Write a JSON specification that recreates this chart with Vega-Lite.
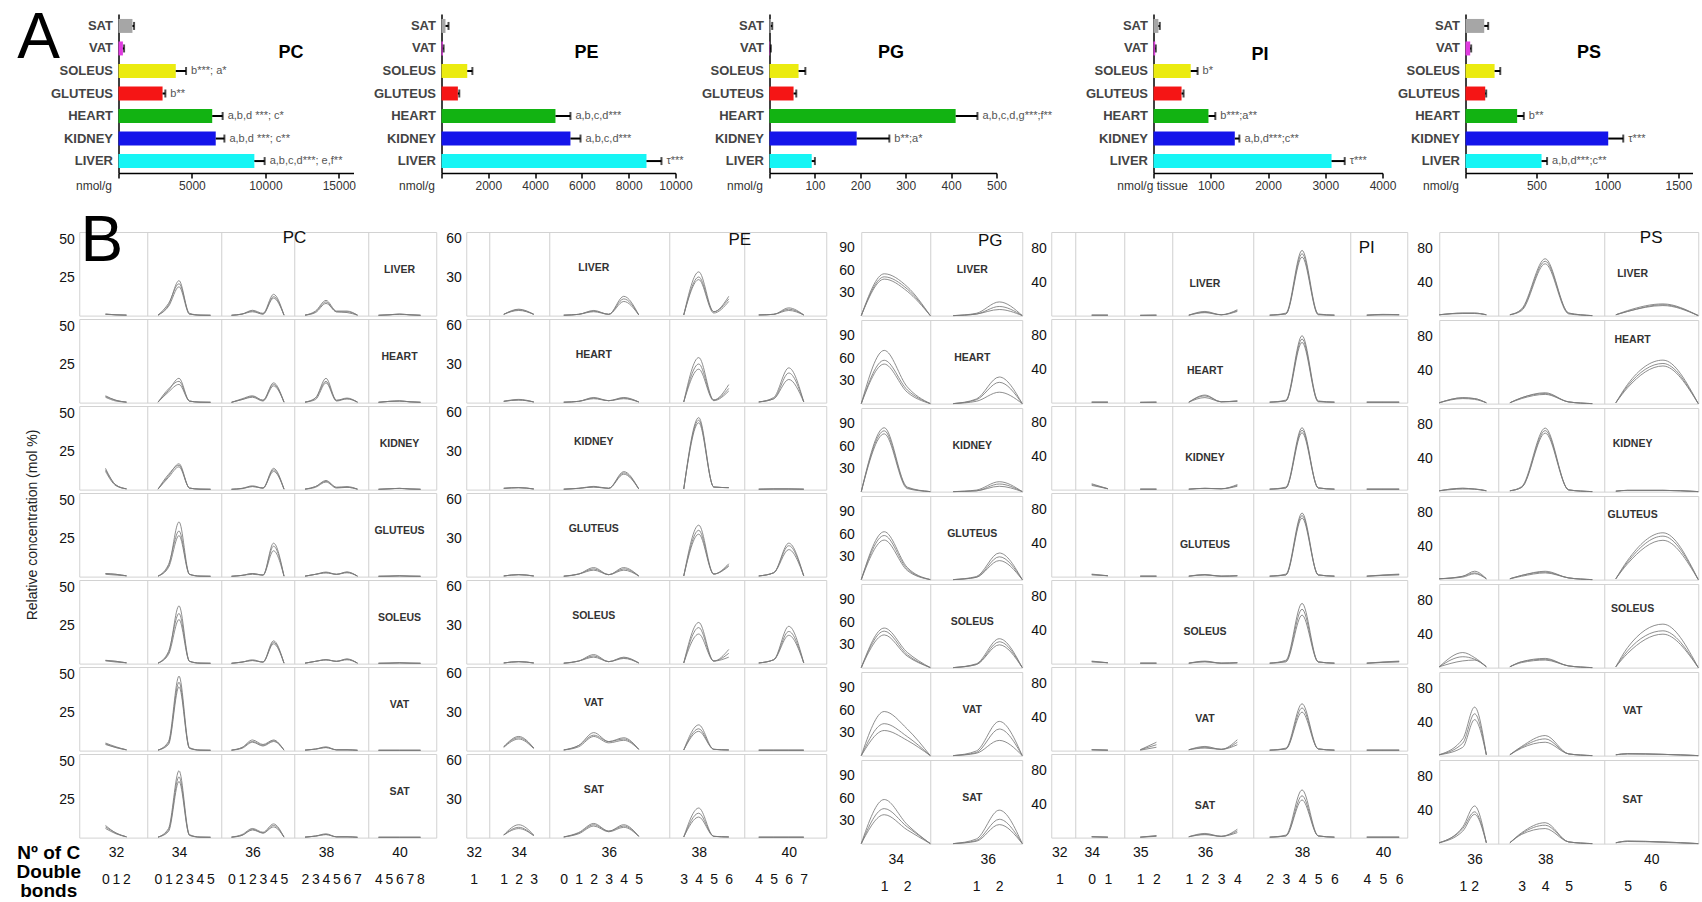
{
"$schema":"https://vega.github.io/schema/vega-lite/v6.json",
"padding":{"left":16,"top":6,"right":0,"bottom":0},
"config":{"font":"Liberation Sans","view":{"stroke":"#d2d2d2"}},
"datasets":{
"bars":[
{"cls":"PC","t":"SAT","v":950,"e":1060,"note":""},
{"cls":"PC","t":"VAT","v":300,"e":380,"note":""},
{"cls":"PC","t":"SOLEUS","v":3900,"e":4600,"note":"b***; a*"},
{"cls":"PC","t":"GLUTEUS","v":3000,"e":3190,"note":"b**"},
{"cls":"PC","t":"HEART","v":6380,"e":7090,"note":"a,b,d ***; c*"},
{"cls":"PC","t":"KIDNEY","v":6620,"e":7210,"note":"a,b,d ***; c**"},
{"cls":"PC","t":"LIVER","v":9250,"e":9950,"note":"a,b,c,d***; e,f**"},
{"cls":"PE","t":"SAT","v":170,"e":300,"note":""},
{"cls":"PE","t":"VAT","v":60,"e":90,"note":""},
{"cls":"PE","t":"SOLEUS","v":1100,"e":1320,"note":""},
{"cls":"PE","t":"GLUTEUS","v":700,"e":760,"note":""},
{"cls":"PE","t":"HEART","v":4870,"e":5510,"note":"a,b,c,d***"},
{"cls":"PE","t":"KIDNEY","v":5510,"e":5940,"note":"a,b,c,d***"},
{"cls":"PE","t":"LIVER","v":8760,"e":9400,"note":"τ***"},
{"cls":"PG","t":"SAT","v":3,"e":6,"note":""},
{"cls":"PG","t":"VAT","v":1,"e":3,"note":""},
{"cls":"PG","t":"SOLEUS","v":64,"e":79,"note":""},
{"cls":"PG","t":"GLUTEUS","v":53,"e":59,"note":""},
{"cls":"PG","t":"HEART","v":410,"e":458,"note":"a,b,c,d,g***;f**"},
{"cls":"PG","t":"KIDNEY","v":192,"e":264,"note":"b**;a*"},
{"cls":"PG","t":"LIVER","v":93,"e":100,"note":""},
{"cls":"PI","t":"SAT","v":85,"e":110,"note":""},
{"cls":"PI","t":"VAT","v":30,"e":40,"note":""},
{"cls":"PI","t":"SOLEUS","v":650,"e":770,"note":"b*"},
{"cls":"PI","t":"GLUTEUS","v":490,"e":525,"note":""},
{"cls":"PI","t":"HEART","v":960,"e":1080,"note":"b***;a**"},
{"cls":"PI","t":"KIDNEY","v":1420,"e":1500,"note":"a,b,d***;c**"},
{"cls":"PI","t":"LIVER","v":3110,"e":3340,"note":"τ***"},
{"cls":"PS","t":"SAT","v":132,"e":160,"note":""},
{"cls":"PS","t":"VAT","v":33,"e":40,"note":""},
{"cls":"PS","t":"SOLEUS","v":205,"e":245,"note":""},
{"cls":"PS","t":"GLUTEUS","v":139,"e":146,"note":""},
{"cls":"PS","t":"HEART","v":364,"e":411,"note":"b**"},
{"cls":"PS","t":"KIDNEY","v":1006,"e":1112,"note":"τ***"},
{"cls":"PS","t":"LIVER","v":536,"e":575,"note":"a,b,d***;c**"}
],
"pc":[
{"t":"LI","g":"32","s":"32:0","a":1,"b":1,"c":0.8},
{"t":"LI","g":"32","s":"32:1","a":0.5,"b":0.5,"c":0.5},
{"t":"LI","g":"32","s":"32:2","a":0.3,"b":0.3,"c":0.3},
{"t":"LI","g":"34","s":"34:0","a":0.3,"b":0.3,"c":0.3},
{"t":"LI","g":"34","s":"34:1","a":7,"b":8,"c":6},
{"t":"LI","g":"34","s":"34:2","a":23,"b":21,"c":19},
{"t":"LI","g":"34","s":"34:3","a":1,"b":1.5,"c":1},
{"t":"LI","g":"34","s":"34:4","a":0.3,"b":0.3,"c":0.3},
{"t":"LI","g":"34","s":"34:5","a":0.2,"b":0.2,"c":0.2},
{"t":"LI","g":"36","s":"36:0","a":0.2,"b":0.2,"c":0.2},
{"t":"LI","g":"36","s":"36:1","a":1,"b":1,"c":1},
{"t":"LI","g":"36","s":"36:2","a":3.5,"b":3,"c":2.5},
{"t":"LI","g":"36","s":"36:3","a":1.5,"b":1,"c":1},
{"t":"LI","g":"36","s":"36:4","a":14,"b":12.5,"c":11.5},
{"t":"LI","g":"36","s":"36:5","a":0.3,"b":0.3,"c":0.3},
{"t":"LI","g":"38","s":"38:2","a":0.3,"b":0.3,"c":0.3},
{"t":"LI","g":"38","s":"38:3","a":3,"b":2.5,"c":2},
{"t":"LI","g":"38","s":"38:4","a":10,"b":9,"c":8},
{"t":"LI","g":"38","s":"38:5","a":3,"b":2.5,"c":2.5},
{"t":"LI","g":"38","s":"38:6","a":3,"b":2.5,"c":2},
{"t":"LI","g":"38","s":"38:7","a":0.3,"b":0.3,"c":0.3},
{"t":"LI","g":"40","s":"40:4","a":0.2,"b":0.2,"c":0.2},
{"t":"LI","g":"40","s":"40:5","a":0.5,"b":0.5,"c":0.5},
{"t":"LI","g":"40","s":"40:6","a":1,"b":1,"c":0.8},
{"t":"LI","g":"40","s":"40:7","a":0.5,"b":0.5,"c":0.5},
{"t":"LI","g":"40","s":"40:8","a":0.2,"b":0.2,"c":0.2},
{"t":"HE","g":"32","s":"32:0","a":4,"b":4.5,"c":3.5},
{"t":"HE","g":"32","s":"32:1","a":1.5,"b":1.5,"c":1},
{"t":"HE","g":"32","s":"32:2","a":0.3,"b":0.3,"c":0.3},
{"t":"HE","g":"34","s":"34:0","a":0.3,"b":0.3,"c":0.3},
{"t":"HE","g":"34","s":"34:1","a":8,"b":9,"c":7},
{"t":"HE","g":"34","s":"34:2","a":16,"b":14,"c":12},
{"t":"HE","g":"34","s":"34:3","a":1,"b":1,"c":1},
{"t":"HE","g":"34","s":"34:4","a":0.3,"b":0.3,"c":0.3},
{"t":"HE","g":"34","s":"34:5","a":0.2,"b":0.2,"c":0.2},
{"t":"HE","g":"36","s":"36:0","a":0.2,"b":0.2,"c":0.2},
{"t":"HE","g":"36","s":"36:1","a":2,"b":2.5,"c":2},
{"t":"HE","g":"36","s":"36:2","a":4,"b":4.5,"c":3.5},
{"t":"HE","g":"36","s":"36:3","a":1.5,"b":1.5,"c":1},
{"t":"HE","g":"36","s":"36:4","a":13,"b":12,"c":11},
{"t":"HE","g":"36","s":"36:5","a":0.3,"b":0.3,"c":0.3},
{"t":"HE","g":"38","s":"38:2","a":0.3,"b":0.3,"c":0.3},
{"t":"HE","g":"38","s":"38:3","a":3,"b":3,"c":2},
{"t":"HE","g":"38","s":"38:4","a":16,"b":14,"c":13},
{"t":"HE","g":"38","s":"38:5","a":1.5,"b":1.5,"c":1},
{"t":"HE","g":"38","s":"38:6","a":3,"b":2.5,"c":2.5},
{"t":"HE","g":"38","s":"38:7","a":0.3,"b":0.3,"c":0.3},
{"t":"HE","g":"40","s":"40:4","a":0.2,"b":0.2,"c":0.2},
{"t":"HE","g":"40","s":"40:5","a":0.8,"b":0.8,"c":0.8},
{"t":"HE","g":"40","s":"40:6","a":1.2,"b":1,"c":1},
{"t":"HE","g":"40","s":"40:7","a":0.5,"b":0.5,"c":0.5},
{"t":"HE","g":"40","s":"40:8","a":0.2,"b":0.2,"c":0.2},
{"t":"KI","g":"32","s":"32:0","a":14,"b":13,"c":12},
{"t":"KI","g":"32","s":"32:1","a":3,"b":3,"c":2.5},
{"t":"KI","g":"32","s":"32:2","a":0.5,"b":0.5,"c":0.5},
{"t":"KI","g":"34","s":"34:0","a":0.3,"b":0.3,"c":0.3},
{"t":"KI","g":"34","s":"34:1","a":9,"b":10,"c":8},
{"t":"KI","g":"34","s":"34:2","a":17,"b":16,"c":15},
{"t":"KI","g":"34","s":"34:3","a":1,"b":1,"c":1},
{"t":"KI","g":"34","s":"34:4","a":0.3,"b":0.3,"c":0.3},
{"t":"KI","g":"34","s":"34:5","a":0.2,"b":0.2,"c":0.2},
{"t":"KI","g":"36","s":"36:0","a":0.2,"b":0.2,"c":0.2},
{"t":"KI","g":"36","s":"36:1","a":0.8,"b":0.8,"c":0.6},
{"t":"KI","g":"36","s":"36:2","a":2.5,"b":2,"c":2},
{"t":"KI","g":"36","s":"36:3","a":1,"b":1,"c":1},
{"t":"KI","g":"36","s":"36:4","a":14,"b":13,"c":12},
{"t":"KI","g":"36","s":"36:5","a":0.3,"b":0.3,"c":0.3},
{"t":"KI","g":"38","s":"38:2","a":0.3,"b":0.3,"c":0.3},
{"t":"KI","g":"38","s":"38:3","a":2,"b":2,"c":1.5},
{"t":"KI","g":"38","s":"38:4","a":6,"b":5.5,"c":5},
{"t":"KI","g":"38","s":"38:5","a":1.5,"b":1.5,"c":1},
{"t":"KI","g":"38","s":"38:6","a":2,"b":1.5,"c":1.5},
{"t":"KI","g":"38","s":"38:7","a":0.3,"b":0.3,"c":0.3},
{"t":"KI","g":"40","s":"40:4","a":0.2,"b":0.2,"c":0.2},
{"t":"KI","g":"40","s":"40:5","a":0.5,"b":0.5,"c":0.5},
{"t":"KI","g":"40","s":"40:6","a":0.8,"b":0.8,"c":0.8},
{"t":"KI","g":"40","s":"40:7","a":0.4,"b":0.4,"c":0.4},
{"t":"KI","g":"40","s":"40:8","a":0.2,"b":0.2,"c":0.2},
{"t":"GL","g":"32","s":"32:0","a":2,"b":2,"c":1.5},
{"t":"GL","g":"32","s":"32:1","a":1.5,"b":1.5,"c":1},
{"t":"GL","g":"32","s":"32:2","a":0.5,"b":0.5,"c":0.5},
{"t":"GL","g":"34","s":"34:0","a":0.3,"b":0.3,"c":0.3},
{"t":"GL","g":"34","s":"34:1","a":7,"b":8,"c":6},
{"t":"GL","g":"34","s":"34:2","a":36,"b":30,"c":27},
{"t":"GL","g":"34","s":"34:3","a":1.5,"b":1.5,"c":1.5},
{"t":"GL","g":"34","s":"34:4","a":0.3,"b":0.3,"c":0.3},
{"t":"GL","g":"34","s":"34:5","a":0.2,"b":0.2,"c":0.2},
{"t":"GL","g":"36","s":"36:0","a":0.2,"b":0.2,"c":0.2},
{"t":"GL","g":"36","s":"36:1","a":0.8,"b":0.8,"c":0.8},
{"t":"GL","g":"36","s":"36:2","a":2,"b":2,"c":1.5},
{"t":"GL","g":"36","s":"36:3","a":1,"b":1,"c":1},
{"t":"GL","g":"36","s":"36:4","a":22,"b":20,"c":17},
{"t":"GL","g":"36","s":"36:5","a":0.3,"b":0.3,"c":0.3},
{"t":"GL","g":"38","s":"38:2","a":0.3,"b":0.3,"c":0.3},
{"t":"GL","g":"38","s":"38:3","a":1.5,"b":1.5,"c":1.5},
{"t":"GL","g":"38","s":"38:4","a":3,"b":2.5,"c":2.5},
{"t":"GL","g":"38","s":"38:5","a":1.5,"b":1.5,"c":1.5},
{"t":"GL","g":"38","s":"38:6","a":3,"b":3,"c":2.5},
{"t":"GL","g":"38","s":"38:7","a":0.3,"b":0.3,"c":0.3},
{"t":"GL","g":"40","s":"40:4","a":0.2,"b":0.2,"c":0.2},
{"t":"GL","g":"40","s":"40:5","a":0.3,"b":0.3,"c":0.3},
{"t":"GL","g":"40","s":"40:6","a":0.5,"b":0.5,"c":0.5},
{"t":"GL","g":"40","s":"40:7","a":0.3,"b":0.3,"c":0.3},
{"t":"GL","g":"40","s":"40:8","a":0.2,"b":0.2,"c":0.2},
{"t":"SO","g":"32","s":"32:0","a":2,"b":2.2,"c":1.8},
{"t":"SO","g":"32","s":"32:1","a":1.5,"b":1.5,"c":1},
{"t":"SO","g":"32","s":"32:2","a":0.5,"b":0.5,"c":0.5},
{"t":"SO","g":"34","s":"34:0","a":0.3,"b":0.3,"c":0.3},
{"t":"SO","g":"34","s":"34:1","a":7,"b":8,"c":6},
{"t":"SO","g":"34","s":"34:2","a":38,"b":33,"c":29},
{"t":"SO","g":"34","s":"34:3","a":1.5,"b":1.5,"c":1.5},
{"t":"SO","g":"34","s":"34:4","a":0.3,"b":0.3,"c":0.3},
{"t":"SO","g":"34","s":"34:5","a":0.2,"b":0.2,"c":0.2},
{"t":"SO","g":"36","s":"36:0","a":0.2,"b":0.2,"c":0.2},
{"t":"SO","g":"36","s":"36:1","a":1,"b":1,"c":1},
{"t":"SO","g":"36","s":"36:2","a":2.5,"b":2,"c":2},
{"t":"SO","g":"36","s":"36:3","a":1,"b":1,"c":1},
{"t":"SO","g":"36","s":"36:4","a":15,"b":14,"c":13},
{"t":"SO","g":"36","s":"36:5","a":0.3,"b":0.3,"c":0.3},
{"t":"SO","g":"38","s":"38:2","a":0.3,"b":0.3,"c":0.3},
{"t":"SO","g":"38","s":"38:3","a":1.5,"b":1.5,"c":1.5},
{"t":"SO","g":"38","s":"38:4","a":2.5,"b":2.5,"c":2.5},
{"t":"SO","g":"38","s":"38:5","a":1.5,"b":1.5,"c":1.5},
{"t":"SO","g":"38","s":"38:6","a":3,"b":3,"c":2.5},
{"t":"SO","g":"38","s":"38:7","a":0.3,"b":0.3,"c":0.3},
{"t":"SO","g":"40","s":"40:4","a":0.2,"b":0.2,"c":0.2},
{"t":"SO","g":"40","s":"40:5","a":0.3,"b":0.3,"c":0.3},
{"t":"SO","g":"40","s":"40:6","a":0.5,"b":0.5,"c":0.5},
{"t":"SO","g":"40","s":"40:7","a":0.3,"b":0.3,"c":0.3},
{"t":"SO","g":"40","s":"40:8","a":0.2,"b":0.2,"c":0.2},
{"t":"VA","g":"32","s":"32:0","a":5,"b":4.5,"c":4},
{"t":"VA","g":"32","s":"32:1","a":2.5,"b":2,"c":2},
{"t":"VA","g":"32","s":"32:2","a":0.5,"b":0.5,"c":0.5},
{"t":"VA","g":"34","s":"34:0","a":0.3,"b":0.3,"c":0.3},
{"t":"VA","g":"34","s":"34:1","a":6,"b":5,"c":4},
{"t":"VA","g":"34","s":"34:2","a":49,"b":45,"c":42},
{"t":"VA","g":"34","s":"34:3","a":2,"b":1.5,"c":1.5},
{"t":"VA","g":"34","s":"34:4","a":0.3,"b":0.3,"c":0.3},
{"t":"VA","g":"34","s":"34:5","a":0.2,"b":0.2,"c":0.2},
{"t":"VA","g":"36","s":"36:0","a":0.3,"b":0.3,"c":0.3},
{"t":"VA","g":"36","s":"36:1","a":2,"b":2,"c":1.5},
{"t":"VA","g":"36","s":"36:2","a":7,"b":6,"c":5.5},
{"t":"VA","g":"36","s":"36:3","a":4,"b":3.5,"c":3},
{"t":"VA","g":"36","s":"36:4","a":7,"b":6.5,"c":6},
{"t":"VA","g":"36","s":"36:5","a":0.3,"b":0.3,"c":0.3},
{"t":"VA","g":"38","s":"38:2","a":0.3,"b":0.3,"c":0.3},
{"t":"VA","g":"38","s":"38:3","a":1,"b":1,"c":1},
{"t":"VA","g":"38","s":"38:4","a":2.5,"b":2,"c":2},
{"t":"VA","g":"38","s":"38:5","a":0.5,"b":0.5,"c":0.5},
{"t":"VA","g":"38","s":"38:6","a":0.5,"b":0.5,"c":0.5},
{"t":"VA","g":"38","s":"38:7","a":0.2,"b":0.2,"c":0.2},
{"t":"VA","g":"40","s":"40:4","a":0.2,"b":0.2,"c":0.2},
{"t":"VA","g":"40","s":"40:5","a":0.2,"b":0.2,"c":0.2},
{"t":"VA","g":"40","s":"40:6","a":0.2,"b":0.2,"c":0.2},
{"t":"VA","g":"40","s":"40:7","a":0.2,"b":0.2,"c":0.2},
{"t":"VA","g":"40","s":"40:8","a":0.2,"b":0.2,"c":0.2},
{"t":"SA","g":"32","s":"32:0","a":8,"b":7,"c":6},
{"t":"SA","g":"32","s":"32:1","a":3,"b":3,"c":2.5},
{"t":"SA","g":"32","s":"32:2","a":0.5,"b":0.5,"c":0.5},
{"t":"SA","g":"34","s":"34:0","a":0.3,"b":0.3,"c":0.3},
{"t":"SA","g":"34","s":"34:1","a":6,"b":5,"c":4},
{"t":"SA","g":"34","s":"34:2","a":44,"b":40,"c":37},
{"t":"SA","g":"34","s":"34:3","a":2,"b":1.5,"c":1.5},
{"t":"SA","g":"34","s":"34:4","a":0.3,"b":0.3,"c":0.3},
{"t":"SA","g":"34","s":"34:5","a":0.2,"b":0.2,"c":0.2},
{"t":"SA","g":"36","s":"36:0","a":0.3,"b":0.3,"c":0.3},
{"t":"SA","g":"36","s":"36:1","a":2,"b":1.5,"c":1.5},
{"t":"SA","g":"36","s":"36:2","a":6,"b":5.5,"c":5},
{"t":"SA","g":"36","s":"36:3","a":3.5,"b":3,"c":3},
{"t":"SA","g":"36","s":"36:4","a":9,"b":8,"c":7},
{"t":"SA","g":"36","s":"36:5","a":0.3,"b":0.3,"c":0.3},
{"t":"SA","g":"38","s":"38:2","a":0.3,"b":0.3,"c":0.3},
{"t":"SA","g":"38","s":"38:3","a":1,"b":1,"c":1},
{"t":"SA","g":"38","s":"38:4","a":2.5,"b":2,"c":2},
{"t":"SA","g":"38","s":"38:5","a":0.5,"b":0.5,"c":0.5},
{"t":"SA","g":"38","s":"38:6","a":0.5,"b":0.5,"c":0.5},
{"t":"SA","g":"38","s":"38:7","a":0.2,"b":0.2,"c":0.2},
{"t":"SA","g":"40","s":"40:4","a":0.2,"b":0.2,"c":0.2},
{"t":"SA","g":"40","s":"40:5","a":0.2,"b":0.2,"c":0.2},
{"t":"SA","g":"40","s":"40:6","a":0.2,"b":0.2,"c":0.2},
{"t":"SA","g":"40","s":"40:7","a":0.2,"b":0.2,"c":0.2},
{"t":"SA","g":"40","s":"40:8","a":0.2,"b":0.2,"c":0.2},
{"t":"LI","s":"40:6","lab":"LIVER","v":30},
{"t":"HE","s":"40:6","lab":"HEART","v":30},
{"t":"KI","s":"40:6","lab":"KIDNEY","v":30},
{"t":"GL","s":"40:6","lab":"GLUTEUS","v":30},
{"t":"SO","s":"40:6","lab":"SOLEUS","v":30},
{"t":"VA","s":"40:6","lab":"VAT","v":30},
{"t":"SA","s":"40:6","lab":"SAT","v":30},
{"t":"LI","s":"|38","ttl":"PC","v":51},
{"t":"LI","s":"p0","big":"B","v":48.5}
],
"pe":[
{"t":"LI","g":"32","s":"32:1","a":0.5,"b":0.5,"c":0.5},
{"t":"LI","g":"34","s":"34:1","a":1,"b":1,"c":1},
{"t":"LI","g":"34","s":"34:2","a":5,"b":4.5,"c":4},
{"t":"LI","g":"34","s":"34:3","a":1,"b":1,"c":1},
{"t":"LI","g":"36","s":"36:0","a":0.3,"b":0.3,"c":0.3},
{"t":"LI","g":"36","s":"36:1","a":1,"b":1,"c":1},
{"t":"LI","g":"36","s":"36:2","a":4,"b":3.5,"c":3},
{"t":"LI","g":"36","s":"36:3","a":1,"b":1,"c":1},
{"t":"LI","g":"36","s":"36:4","a":15,"b":13,"c":11},
{"t":"LI","g":"36","s":"36:5","a":0.5,"b":0.5,"c":0.5},
{"t":"LI","g":"38","s":"38:3","a":0.5,"b":0.5,"c":0.5},
{"t":"LI","g":"38","s":"38:4","a":34,"b":30,"c":28},
{"t":"LI","g":"38","s":"38:5","a":3,"b":3,"c":2},
{"t":"LI","g":"38","s":"38:6","a":15,"b":13,"c":11},
{"t":"LI","g":"40","s":"40:4","a":0.5,"b":0.5,"c":0.5},
{"t":"LI","g":"40","s":"40:5","a":1,"b":1,"c":1},
{"t":"LI","g":"40","s":"40:6","a":6,"b":5,"c":4},
{"t":"LI","g":"40","s":"40:7","a":0.5,"b":0.5,"c":0.5},
{"t":"HE","g":"32","s":"32:1","a":0.5,"b":0.5,"c":0.5},
{"t":"HE","g":"34","s":"34:1","a":1,"b":1,"c":1},
{"t":"HE","g":"34","s":"34:2","a":2.5,"b":2,"c":2},
{"t":"HE","g":"34","s":"34:3","a":0.5,"b":0.5,"c":0.5},
{"t":"HE","g":"36","s":"36:0","a":0.3,"b":0.3,"c":0.3},
{"t":"HE","g":"36","s":"36:1","a":1,"b":1,"c":1},
{"t":"HE","g":"36","s":"36:2","a":4,"b":3.5,"c":3},
{"t":"HE","g":"36","s":"36:3","a":1.5,"b":1.5,"c":1.5},
{"t":"HE","g":"36","s":"36:4","a":4,"b":3.5,"c":3},
{"t":"HE","g":"36","s":"36:5","a":0.5,"b":0.5,"c":0.5},
{"t":"HE","g":"38","s":"38:3","a":0.5,"b":0.5,"c":0.5},
{"t":"HE","g":"38","s":"38:4","a":35,"b":30,"c":26},
{"t":"HE","g":"38","s":"38:5","a":2,"b":2,"c":1.5},
{"t":"HE","g":"38","s":"38:6","a":14,"b":11,"c":9},
{"t":"HE","g":"40","s":"40:4","a":0.5,"b":0.5,"c":0.5},
{"t":"HE","g":"40","s":"40:5","a":4,"b":3,"c":3},
{"t":"HE","g":"40","s":"40:6","a":27,"b":23,"c":18},
{"t":"HE","g":"40","s":"40:7","a":0.5,"b":0.5,"c":0.5},
{"t":"KI","g":"32","s":"32:1","a":1,"b":1,"c":1},
{"t":"KI","g":"34","s":"34:1","a":1,"b":1,"c":1},
{"t":"KI","g":"34","s":"34:2","a":1.5,"b":1.5,"c":1.5},
{"t":"KI","g":"34","s":"34:3","a":0.5,"b":0.5,"c":0.5},
{"t":"KI","g":"36","s":"36:0","a":0.3,"b":0.3,"c":0.3},
{"t":"KI","g":"36","s":"36:1","a":1,"b":1,"c":1},
{"t":"KI","g":"36","s":"36:2","a":2.5,"b":2,"c":2},
{"t":"KI","g":"36","s":"36:3","a":1,"b":1,"c":1},
{"t":"KI","g":"36","s":"36:4","a":14,"b":13,"c":12},
{"t":"KI","g":"36","s":"36:5","a":0.5,"b":0.5,"c":0.5},
{"t":"KI","g":"38","s":"38:3","a":0.5,"b":0.5,"c":0.5},
{"t":"KI","g":"38","s":"38:4","a":56,"b":54,"c":52},
{"t":"KI","g":"38","s":"38:5","a":2,"b":2,"c":2},
{"t":"KI","g":"38","s":"38:6","a":1.5,"b":1.5,"c":1.5},
{"t":"KI","g":"40","s":"40:4","a":0.3,"b":0.3,"c":0.3},
{"t":"KI","g":"40","s":"40:5","a":0.5,"b":0.5,"c":0.5},
{"t":"KI","g":"40","s":"40:6","a":0.5,"b":0.5,"c":0.5},
{"t":"KI","g":"40","s":"40:7","a":0.3,"b":0.3,"c":0.3},
{"t":"GL","g":"32","s":"32:1","a":0.5,"b":0.5,"c":0.5},
{"t":"GL","g":"34","s":"34:1","a":0.5,"b":0.5,"c":0.5},
{"t":"GL","g":"34","s":"34:2","a":1.5,"b":1.5,"c":1.5},
{"t":"GL","g":"34","s":"34:3","a":0.5,"b":0.5,"c":0.5},
{"t":"GL","g":"36","s":"36:0","a":0.3,"b":0.3,"c":0.3},
{"t":"GL","g":"36","s":"36:1","a":2,"b":2,"c":2},
{"t":"GL","g":"36","s":"36:2","a":7,"b":6,"c":5},
{"t":"GL","g":"36","s":"36:3","a":1.5,"b":1.5,"c":1.5},
{"t":"GL","g":"36","s":"36:4","a":7,"b":6,"c":5},
{"t":"GL","g":"36","s":"36:5","a":0.5,"b":0.5,"c":0.5},
{"t":"GL","g":"38","s":"38:3","a":0.5,"b":0.5,"c":0.5},
{"t":"GL","g":"38","s":"38:4","a":40,"b":36,"c":33},
{"t":"GL","g":"38","s":"38:5","a":2,"b":2,"c":2},
{"t":"GL","g":"38","s":"38:6","a":10,"b":9,"c":8},
{"t":"GL","g":"40","s":"40:4","a":0.5,"b":0.5,"c":0.5},
{"t":"GL","g":"40","s":"40:5","a":3,"b":3,"c":3},
{"t":"GL","g":"40","s":"40:6","a":26,"b":24,"c":21},
{"t":"GL","g":"40","s":"40:7","a":0.5,"b":0.5,"c":0.5},
{"t":"SO","g":"32","s":"32:1","a":0.5,"b":0.5,"c":0.5},
{"t":"SO","g":"34","s":"34:1","a":0.5,"b":0.5,"c":0.5},
{"t":"SO","g":"34","s":"34:2","a":1.5,"b":1.5,"c":1.5},
{"t":"SO","g":"34","s":"34:3","a":0.5,"b":0.5,"c":0.5},
{"t":"SO","g":"36","s":"36:0","a":0.3,"b":0.3,"c":0.3},
{"t":"SO","g":"36","s":"36:1","a":2,"b":2,"c":2},
{"t":"SO","g":"36","s":"36:2","a":7,"b":6,"c":5},
{"t":"SO","g":"36","s":"36:3","a":1.5,"b":1.5,"c":1.5},
{"t":"SO","g":"36","s":"36:4","a":5,"b":4.5,"c":4},
{"t":"SO","g":"36","s":"36:5","a":0.5,"b":0.5,"c":0.5},
{"t":"SO","g":"38","s":"38:3","a":0.5,"b":0.5,"c":0.5},
{"t":"SO","g":"38","s":"38:4","a":32,"b":28,"c":23},
{"t":"SO","g":"38","s":"38:5","a":2,"b":2,"c":2},
{"t":"SO","g":"38","s":"38:6","a":11,"b":8,"c":5},
{"t":"SO","g":"40","s":"40:4","a":0.5,"b":0.5,"c":0.5},
{"t":"SO","g":"40","s":"40:5","a":3,"b":3,"c":3},
{"t":"SO","g":"40","s":"40:6","a":29,"b":25,"c":22},
{"t":"SO","g":"40","s":"40:7","a":0.5,"b":0.5,"c":0.5},
{"t":"VA","g":"32","s":"32:1","a":1,"b":1,"c":1},
{"t":"VA","g":"34","s":"34:1","a":3,"b":3,"c":2.5},
{"t":"VA","g":"34","s":"34:2","a":11,"b":10,"c":9},
{"t":"VA","g":"34","s":"34:3","a":2,"b":2,"c":1.5},
{"t":"VA","g":"36","s":"36:0","a":0.5,"b":0.5,"c":0.5},
{"t":"VA","g":"36","s":"36:1","a":4,"b":4,"c":3},
{"t":"VA","g":"36","s":"36:2","a":14,"b":12,"c":11},
{"t":"VA","g":"36","s":"36:3","a":7,"b":7,"c":6},
{"t":"VA","g":"36","s":"36:4","a":10,"b":9,"c":8},
{"t":"VA","g":"36","s":"36:5","a":1,"b":1,"c":1},
{"t":"VA","g":"38","s":"38:3","a":0.5,"b":0.5,"c":0.5},
{"t":"VA","g":"38","s":"38:4","a":20,"b":17,"c":15},
{"t":"VA","g":"38","s":"38:5","a":1,"b":1,"c":1},
{"t":"VA","g":"38","s":"38:6","a":0.5,"b":0.5,"c":0.5},
{"t":"VA","g":"40","s":"40:4","a":0.3,"b":0.3,"c":0.3},
{"t":"VA","g":"40","s":"40:5","a":0.3,"b":0.3,"c":0.3},
{"t":"VA","g":"40","s":"40:6","a":0.3,"b":0.3,"c":0.3},
{"t":"VA","g":"40","s":"40:7","a":0.3,"b":0.3,"c":0.3},
{"t":"SA","g":"32","s":"32:1","a":1,"b":1,"c":1},
{"t":"SA","g":"34","s":"34:1","a":2,"b":2,"c":2},
{"t":"SA","g":"34","s":"34:2","a":10,"b":8,"c":7},
{"t":"SA","g":"34","s":"34:3","a":2,"b":1.5,"c":1.5},
{"t":"SA","g":"36","s":"36:0","a":0.5,"b":0.5,"c":0.5},
{"t":"SA","g":"36","s":"36:1","a":4,"b":3.5,"c":3},
{"t":"SA","g":"36","s":"36:2","a":11,"b":10,"c":9},
{"t":"SA","g":"36","s":"36:3","a":5,"b":5,"c":4.5},
{"t":"SA","g":"36","s":"36:4","a":10,"b":9,"c":8},
{"t":"SA","g":"36","s":"36:5","a":1,"b":1,"c":1},
{"t":"SA","g":"38","s":"38:3","a":0.5,"b":0.5,"c":0.5},
{"t":"SA","g":"38","s":"38:4","a":23,"b":19,"c":16},
{"t":"SA","g":"38","s":"38:5","a":1,"b":1,"c":1},
{"t":"SA","g":"38","s":"38:6","a":0.5,"b":0.5,"c":0.5},
{"t":"SA","g":"40","s":"40:4","a":0.3,"b":0.3,"c":0.3},
{"t":"SA","g":"40","s":"40:5","a":0.3,"b":0.3,"c":0.3},
{"t":"SA","g":"40","s":"40:6","a":0.3,"b":0.3,"c":0.3},
{"t":"SA","g":"40","s":"40:7","a":0.3,"b":0.3,"c":0.3},
{"t":"LI","s":"36:2","lab":"LIVER","v":37},
{"t":"HE","s":"36:2","lab":"HEART","v":37},
{"t":"KI","s":"36:2","lab":"KIDNEY","v":37},
{"t":"GL","s":"36:2","lab":"GLUTEUS","v":37},
{"t":"SO","s":"36:2","lab":"SOLEUS","v":37},
{"t":"VA","s":"36:2","lab":"VAT","v":37},
{"t":"SA","s":"36:2","lab":"SAT","v":37},
{"t":"LI","s":"|40","ttl":"PE","v":59}
],
"pg":[
{"t":"LI","g":"34","s":"34:0","a":0,"b":0,"c":0},
{"t":"LI","g":"34","s":"34:1","a":55,"b":51,"c":48},
{"t":"LI","g":"34","s":"34:2","a":38,"b":35,"c":32},
{"t":"LI","g":"34","s":"34:3","a":0,"b":0,"c":0},
{"t":"LI","g":"36","s":"36:0","a":0,"b":0,"c":0},
{"t":"LI","g":"36","s":"36:1","a":3,"b":2,"c":2},
{"t":"LI","g":"36","s":"36:2","a":18,"b":12,"c":8},
{"t":"LI","g":"36","s":"36:3","a":0,"b":0,"c":0},
{"t":"HE","g":"34","s":"34:0","a":0,"b":0,"c":0},
{"t":"HE","g":"34","s":"34:1","a":70,"b":57,"c":52},
{"t":"HE","g":"34","s":"34:2","a":22,"b":18,"c":15},
{"t":"HE","g":"34","s":"34:3","a":0,"b":0,"c":0},
{"t":"HE","g":"36","s":"36:0","a":0,"b":0,"c":0},
{"t":"HE","g":"36","s":"36:1","a":6,"b":5,"c":3},
{"t":"HE","g":"36","s":"36:2","a":35,"b":28,"c":15},
{"t":"HE","g":"36","s":"36:3","a":0,"b":0,"c":0},
{"t":"KI","g":"34","s":"34:0","a":0,"b":0,"c":0},
{"t":"KI","g":"34","s":"34:1","a":84,"b":80,"c":76},
{"t":"KI","g":"34","s":"34:2","a":6,"b":5,"c":4},
{"t":"KI","g":"34","s":"34:3","a":0,"b":0,"c":0},
{"t":"KI","g":"36","s":"36:0","a":0,"b":0,"c":0},
{"t":"KI","g":"36","s":"36:1","a":2,"b":1,"c":1},
{"t":"KI","g":"36","s":"36:2","a":13,"b":10,"c":7},
{"t":"KI","g":"36","s":"36:3","a":0,"b":0,"c":0},
{"t":"GL","g":"34","s":"34:0","a":0,"b":0,"c":0},
{"t":"GL","g":"34","s":"34:1","a":63,"b":58,"c":52},
{"t":"GL","g":"34","s":"34:2","a":16,"b":14,"c":12},
{"t":"GL","g":"34","s":"34:3","a":0,"b":0,"c":0},
{"t":"GL","g":"36","s":"36:0","a":0,"b":0,"c":0},
{"t":"GL","g":"36","s":"36:1","a":4,"b":3,"c":3},
{"t":"GL","g":"36","s":"36:2","a":35,"b":30,"c":25},
{"t":"GL","g":"36","s":"36:3","a":0,"b":0,"c":0},
{"t":"SO","g":"34","s":"34:0","a":0,"b":0,"c":0},
{"t":"SO","g":"34","s":"34:1","a":52,"b":48,"c":43},
{"t":"SO","g":"34","s":"34:2","a":20,"b":17,"c":15},
{"t":"SO","g":"34","s":"34:3","a":0,"b":0,"c":0},
{"t":"SO","g":"36","s":"36:0","a":0,"b":0,"c":0},
{"t":"SO","g":"36","s":"36:1","a":5,"b":4,"c":4},
{"t":"SO","g":"36","s":"36:2","a":38,"b":34,"c":30},
{"t":"SO","g":"36","s":"36:3","a":0,"b":0,"c":0},
{"t":"VA","g":"34","s":"34:0","a":0,"b":0,"c":0},
{"t":"VA","g":"34","s":"34:1","a":58,"b":42,"c":33},
{"t":"VA","g":"34","s":"34:2","a":35,"b":25,"c":20},
{"t":"VA","g":"34","s":"34:3","a":0,"b":0,"c":0},
{"t":"VA","g":"36","s":"36:0","a":0,"b":0,"c":0},
{"t":"VA","g":"36","s":"36:1","a":6,"b":4,"c":3},
{"t":"VA","g":"36","s":"36:2","a":45,"b":35,"c":20},
{"t":"VA","g":"36","s":"36:3","a":0,"b":0,"c":0},
{"t":"SA","g":"34","s":"34:0","a":0,"b":0,"c":0},
{"t":"SA","g":"34","s":"34:1","a":58,"b":46,"c":38},
{"t":"SA","g":"34","s":"34:2","a":25,"b":22,"c":18},
{"t":"SA","g":"34","s":"34:3","a":0,"b":0,"c":0},
{"t":"SA","g":"36","s":"36:0","a":0,"b":0,"c":0},
{"t":"SA","g":"36","s":"36:1","a":6,"b":4,"c":3},
{"t":"SA","g":"36","s":"36:2","a":44,"b":32,"c":25},
{"t":"SA","g":"36","s":"36:3","a":0,"b":0,"c":0},
{"t":"LI","s":"36:1","lab":"LIVER","v":60},
{"t":"HE","s":"36:1","lab":"HEART","v":60},
{"t":"KI","s":"36:1","lab":"KIDNEY","v":60},
{"t":"GL","s":"36:1","lab":"GLUTEUS","v":60},
{"t":"SO","s":"36:1","lab":"SOLEUS","v":60},
{"t":"VA","s":"36:1","lab":"VAT","v":60},
{"t":"SA","s":"36:1","lab":"SAT","v":60},
{"t":"LI","s":"36:2","ttl":"PG","v":98}
],
"pi":[
{"t":"LI","g":"32","s":"32:1","a":0.5,"b":0.5,"c":0.5},
{"t":"LI","g":"34","s":"34:0","a":0.5,"b":0.5,"c":0.5},
{"t":"LI","g":"34","s":"34:1","a":0.5,"b":0.5,"c":0.5},
{"t":"LI","g":"35","s":"35:1","a":0.3,"b":0.3,"c":0.3},
{"t":"LI","g":"35","s":"35:2","a":0.5,"b":0.5,"c":0.5},
{"t":"LI","g":"36","s":"36:1","a":0.5,"b":0.5,"c":0.5},
{"t":"LI","g":"36","s":"36:2","a":5,"b":4,"c":3.5},
{"t":"LI","g":"36","s":"36:3","a":1,"b":1,"c":1},
{"t":"LI","g":"36","s":"36:4","a":7,"b":6,"c":5},
{"t":"LI","g":"38","s":"38:2","a":0.5,"b":0.5,"c":0.5},
{"t":"LI","g":"38","s":"38:3","a":3,"b":2,"c":2},
{"t":"LI","g":"38","s":"38:4","a":78,"b":74,"c":70},
{"t":"LI","g":"38","s":"38:5","a":2,"b":1.5,"c":1},
{"t":"LI","g":"38","s":"38:6","a":0.5,"b":0.5,"c":0.5},
{"t":"LI","g":"40","s":"40:4","a":0.5,"b":0.5,"c":0.5},
{"t":"LI","g":"40","s":"40:5","a":1.5,"b":1,"c":1},
{"t":"LI","g":"40","s":"40:6","a":1,"b":1,"c":1},
{"t":"HE","g":"32","s":"32:1","a":0.5,"b":0.5,"c":0.5},
{"t":"HE","g":"34","s":"34:0","a":0.5,"b":0.5,"c":0.5},
{"t":"HE","g":"34","s":"34:1","a":0.5,"b":0.5,"c":0.5},
{"t":"HE","g":"35","s":"35:1","a":0.3,"b":0.3,"c":0.3},
{"t":"HE","g":"35","s":"35:2","a":0.5,"b":0.5,"c":0.5},
{"t":"HE","g":"36","s":"36:1","a":0.5,"b":0.5,"c":0.5},
{"t":"HE","g":"36","s":"36:2","a":9,"b":8,"c":6},
{"t":"HE","g":"36","s":"36:3","a":1,"b":1,"c":1},
{"t":"HE","g":"36","s":"36:4","a":2,"b":2,"c":1.5},
{"t":"HE","g":"38","s":"38:2","a":0.5,"b":0.5,"c":0.5},
{"t":"HE","g":"38","s":"38:3","a":3,"b":2,"c":2},
{"t":"HE","g":"38","s":"38:4","a":80,"b":76,"c":72},
{"t":"HE","g":"38","s":"38:5","a":2,"b":1.5,"c":1},
{"t":"HE","g":"38","s":"38:6","a":0.5,"b":0.5,"c":0.5},
{"t":"HE","g":"40","s":"40:4","a":0.5,"b":0.5,"c":0.5},
{"t":"HE","g":"40","s":"40:5","a":0.5,"b":0.5,"c":0.5},
{"t":"HE","g":"40","s":"40:6","a":0.5,"b":0.5,"c":0.5},
{"t":"KI","g":"32","s":"32:1","a":1,"b":1,"c":1},
{"t":"KI","g":"34","s":"34:0","a":7,"b":6,"c":5},
{"t":"KI","g":"34","s":"34:1","a":1,"b":1,"c":1},
{"t":"KI","g":"35","s":"35:1","a":0.5,"b":0.5,"c":0.5},
{"t":"KI","g":"35","s":"35:2","a":0.5,"b":0.5,"c":0.5},
{"t":"KI","g":"36","s":"36:1","a":0.5,"b":0.5,"c":0.5},
{"t":"KI","g":"36","s":"36:2","a":1.5,"b":1.5,"c":1.5},
{"t":"KI","g":"36","s":"36:3","a":1,"b":1,"c":1},
{"t":"KI","g":"36","s":"36:4","a":6,"b":5,"c":4},
{"t":"KI","g":"38","s":"38:2","a":0.5,"b":0.5,"c":0.5},
{"t":"KI","g":"38","s":"38:3","a":3,"b":2,"c":2},
{"t":"KI","g":"38","s":"38:4","a":74,"b":71,"c":68},
{"t":"KI","g":"38","s":"38:5","a":2,"b":2,"c":2},
{"t":"KI","g":"38","s":"38:6","a":0.5,"b":0.5,"c":0.5},
{"t":"KI","g":"40","s":"40:4","a":0.5,"b":0.5,"c":0.5},
{"t":"KI","g":"40","s":"40:5","a":0.5,"b":0.5,"c":0.5},
{"t":"KI","g":"40","s":"40:6","a":0.5,"b":0.5,"c":0.5},
{"t":"GL","g":"32","s":"32:1","a":0.5,"b":0.5,"c":0.5},
{"t":"GL","g":"34","s":"34:0","a":3,"b":2.5,"c":2},
{"t":"GL","g":"34","s":"34:1","a":1,"b":1,"c":1},
{"t":"GL","g":"35","s":"35:1","a":0.5,"b":0.5,"c":0.5},
{"t":"GL","g":"35","s":"35:2","a":0.5,"b":0.5,"c":0.5},
{"t":"GL","g":"36","s":"36:1","a":0.5,"b":0.5,"c":0.5},
{"t":"GL","g":"36","s":"36:2","a":2.5,"b":2,"c":2},
{"t":"GL","g":"36","s":"36:3","a":0.5,"b":0.5,"c":0.5},
{"t":"GL","g":"36","s":"36:4","a":1,"b":1,"c":1},
{"t":"GL","g":"38","s":"38:2","a":0.5,"b":0.5,"c":0.5},
{"t":"GL","g":"38","s":"38:3","a":3,"b":2,"c":2},
{"t":"GL","g":"38","s":"38:4","a":76,"b":73,"c":70},
{"t":"GL","g":"38","s":"38:5","a":2,"b":2,"c":2},
{"t":"GL","g":"38","s":"38:6","a":0.5,"b":0.5,"c":0.5},
{"t":"GL","g":"40","s":"40:4","a":0.5,"b":0.5,"c":0.5},
{"t":"GL","g":"40","s":"40:5","a":2,"b":1.5,"c":1.5},
{"t":"GL","g":"40","s":"40:6","a":3,"b":2.5,"c":2},
{"t":"SO","g":"32","s":"32:1","a":0.5,"b":0.5,"c":0.5},
{"t":"SO","g":"34","s":"34:0","a":3,"b":2.5,"c":2},
{"t":"SO","g":"34","s":"34:1","a":1,"b":1,"c":1},
{"t":"SO","g":"35","s":"35:1","a":0.5,"b":0.5,"c":0.5},
{"t":"SO","g":"35","s":"35:2","a":0.5,"b":0.5,"c":0.5},
{"t":"SO","g":"36","s":"36:1","a":0.5,"b":0.5,"c":0.5},
{"t":"SO","g":"36","s":"36:2","a":3,"b":2.5,"c":2},
{"t":"SO","g":"36","s":"36:3","a":0.5,"b":0.5,"c":0.5},
{"t":"SO","g":"36","s":"36:4","a":1,"b":1,"c":1},
{"t":"SO","g":"38","s":"38:2","a":0.5,"b":0.5,"c":0.5},
{"t":"SO","g":"38","s":"38:3","a":4,"b":3,"c":2},
{"t":"SO","g":"38","s":"38:4","a":72,"b":65,"c":58},
{"t":"SO","g":"38","s":"38:5","a":2,"b":2,"c":2},
{"t":"SO","g":"38","s":"38:6","a":0.5,"b":0.5,"c":0.5},
{"t":"SO","g":"40","s":"40:4","a":0.5,"b":0.5,"c":0.5},
{"t":"SO","g":"40","s":"40:5","a":2,"b":1.5,"c":1.5},
{"t":"SO","g":"40","s":"40:6","a":3,"b":2.5,"c":2},
{"t":"VA","g":"32","s":"32:1","a":0.5,"b":0.5,"c":0.5},
{"t":"VA","g":"34","s":"34:0","a":1,"b":1,"c":1},
{"t":"VA","g":"34","s":"34:1","a":0.5,"b":0.5,"c":0.5},
{"t":"VA","g":"35","s":"35:1","a":1,"b":1,"c":0.5},
{"t":"VA","g":"35","s":"35:2","a":10,"b":7,"c":4},
{"t":"VA","g":"36","s":"36:1","a":1,"b":1,"c":1},
{"t":"VA","g":"36","s":"36:2","a":5,"b":4,"c":3},
{"t":"VA","g":"36","s":"36:3","a":1.5,"b":1.5,"c":1.5},
{"t":"VA","g":"36","s":"36:4","a":13,"b":10,"c":7},
{"t":"VA","g":"38","s":"38:2","a":0.5,"b":0.5,"c":0.5},
{"t":"VA","g":"38","s":"38:3","a":3,"b":2,"c":2},
{"t":"VA","g":"38","s":"38:4","a":56,"b":51,"c":46},
{"t":"VA","g":"38","s":"38:5","a":2,"b":2,"c":2},
{"t":"VA","g":"38","s":"38:6","a":0.5,"b":0.5,"c":0.5},
{"t":"VA","g":"40","s":"40:4","a":0.5,"b":0.5,"c":0.5},
{"t":"VA","g":"40","s":"40:5","a":0.5,"b":0.5,"c":0.5},
{"t":"VA","g":"40","s":"40:6","a":0.5,"b":0.5,"c":0.5},
{"t":"SA","g":"32","s":"32:1","a":0.5,"b":0.5,"c":0.5},
{"t":"SA","g":"34","s":"34:0","a":1,"b":1,"c":1},
{"t":"SA","g":"34","s":"34:1","a":0.5,"b":0.5,"c":0.5},
{"t":"SA","g":"35","s":"35:1","a":0.5,"b":0.5,"c":0.5},
{"t":"SA","g":"35","s":"35:2","a":2.5,"b":2,"c":1.5},
{"t":"SA","g":"36","s":"36:1","a":1,"b":1,"c":1},
{"t":"SA","g":"36","s":"36:2","a":5,"b":4,"c":3.5},
{"t":"SA","g":"36","s":"36:3","a":1.5,"b":1.5,"c":1.5},
{"t":"SA","g":"36","s":"36:4","a":10,"b":8,"c":6},
{"t":"SA","g":"38","s":"38:2","a":0.5,"b":0.5,"c":0.5},
{"t":"SA","g":"38","s":"38:3","a":3,"b":2,"c":2},
{"t":"SA","g":"38","s":"38:4","a":57,"b":50,"c":45},
{"t":"SA","g":"38","s":"38:5","a":2,"b":2,"c":2},
{"t":"SA","g":"38","s":"38:6","a":0.5,"b":0.5,"c":0.5},
{"t":"SA","g":"40","s":"40:4","a":0.5,"b":0.5,"c":0.5},
{"t":"SA","g":"40","s":"40:5","a":0.5,"b":0.5,"c":0.5},
{"t":"SA","g":"40","s":"40:6","a":0.5,"b":0.5,"c":0.5},
{"t":"LI","s":"36:2","lab":"LIVER","v":38},
{"t":"HE","s":"36:2","lab":"HEART","v":38},
{"t":"KI","s":"36:2","lab":"KIDNEY","v":38},
{"t":"GL","s":"36:2","lab":"GLUTEUS","v":38},
{"t":"SO","s":"36:2","lab":"SOLEUS","v":38},
{"t":"VA","s":"36:2","lab":"VAT","v":38},
{"t":"SA","s":"36:2","lab":"SAT","v":38},
{"t":"LI","s":"40:4","ttl":"PI","v":81}
],
"ps":[
{"t":"LI","g":"36","s":"36:0","a":1,"b":1,"c":1},
{"t":"LI","g":"36","s":"36:1","a":3,"b":3,"c":2.5},
{"t":"LI","g":"36","s":"36:2","a":3,"b":3,"c":2.5},
{"t":"LI","g":"36","s":"36:3","a":1,"b":1,"c":1},
{"t":"LI","g":"38","s":"38:2","a":1,"b":1,"c":1},
{"t":"LI","g":"38","s":"38:3","a":8,"b":7,"c":6},
{"t":"LI","g":"38","s":"38:4","a":68,"b":65,"c":62},
{"t":"LI","g":"38","s":"38:5","a":3,"b":3,"c":2},
{"t":"LI","g":"38","s":"38:6","a":0,"b":0,"c":0},
{"t":"LI","g":"40","s":"40:4","a":1,"b":1,"c":1},
{"t":"LI","g":"40","s":"40:5","a":6,"b":5,"c":5},
{"t":"LI","g":"40","s":"40:6","a":14,"b":13,"c":12},
{"t":"LI","g":"40","s":"40:7","a":0,"b":0,"c":0},
{"t":"HE","g":"36","s":"36:0","a":1,"b":1,"c":1},
{"t":"HE","g":"36","s":"36:1","a":7,"b":7,"c":6},
{"t":"HE","g":"36","s":"36:2","a":6,"b":6,"c":5},
{"t":"HE","g":"36","s":"36:3","a":1,"b":1,"c":1},
{"t":"HE","g":"38","s":"38:2","a":1,"b":1,"c":1},
{"t":"HE","g":"38","s":"38:3","a":7,"b":7,"c":6},
{"t":"HE","g":"38","s":"38:4","a":13,"b":12,"c":11},
{"t":"HE","g":"38","s":"38:5","a":2,"b":2,"c":2},
{"t":"HE","g":"38","s":"38:6","a":0,"b":0,"c":0},
{"t":"HE","g":"40","s":"40:4","a":1,"b":1,"c":1},
{"t":"HE","g":"40","s":"40:5","a":23,"b":21,"c":19},
{"t":"HE","g":"40","s":"40:6","a":52,"b":48,"c":45},
{"t":"HE","g":"40","s":"40:7","a":0,"b":0,"c":0},
{"t":"KI","g":"36","s":"36:0","a":1,"b":1,"c":1},
{"t":"KI","g":"36","s":"36:1","a":4,"b":4,"c":3},
{"t":"KI","g":"36","s":"36:2","a":3,"b":3,"c":3},
{"t":"KI","g":"36","s":"36:3","a":1,"b":1,"c":1},
{"t":"KI","g":"38","s":"38:2","a":1,"b":1,"c":1},
{"t":"KI","g":"38","s":"38:3","a":6,"b":5,"c":5},
{"t":"KI","g":"38","s":"38:4","a":76,"b":73,"c":70},
{"t":"KI","g":"38","s":"38:5","a":2,"b":2,"c":2},
{"t":"KI","g":"38","s":"38:6","a":0,"b":0,"c":0},
{"t":"KI","g":"40","s":"40:4","a":0.5,"b":0.5,"c":0.5},
{"t":"KI","g":"40","s":"40:5","a":1.5,"b":1.5,"c":1.5},
{"t":"KI","g":"40","s":"40:6","a":1.5,"b":1.5,"c":1.5},
{"t":"KI","g":"40","s":"40:7","a":0,"b":0,"c":0},
{"t":"GL","g":"36","s":"36:0","a":1,"b":1,"c":1},
{"t":"GL","g":"36","s":"36:1","a":4,"b":4,"c":3},
{"t":"GL","g":"36","s":"36:2","a":10,"b":8,"c":7},
{"t":"GL","g":"36","s":"36:3","a":1,"b":1,"c":1},
{"t":"GL","g":"38","s":"38:2","a":1,"b":1,"c":1},
{"t":"GL","g":"38","s":"38:3","a":5,"b":5,"c":4},
{"t":"GL","g":"38","s":"38:4","a":10,"b":9,"c":8},
{"t":"GL","g":"38","s":"38:5","a":2,"b":2,"c":2},
{"t":"GL","g":"38","s":"38:6","a":0,"b":0,"c":0},
{"t":"GL","g":"40","s":"40:4","a":1,"b":1,"c":1},
{"t":"GL","g":"40","s":"40:5","a":23,"b":21,"c":19},
{"t":"GL","g":"40","s":"40:6","a":56,"b":52,"c":47},
{"t":"GL","g":"40","s":"40:7","a":0,"b":0,"c":0},
{"t":"SO","g":"36","s":"36:0","a":1,"b":1,"c":1},
{"t":"SO","g":"36","s":"36:1","a":18,"b":13,"c":8},
{"t":"SO","g":"36","s":"36:2","a":12,"b":10,"c":9},
{"t":"SO","g":"36","s":"36:3","a":1,"b":1,"c":1},
{"t":"SO","g":"38","s":"38:2","a":1,"b":1,"c":1},
{"t":"SO","g":"38","s":"38:3","a":7,"b":7,"c":6},
{"t":"SO","g":"38","s":"38:4","a":11,"b":10,"c":9},
{"t":"SO","g":"38","s":"38:5","a":2,"b":2,"c":2},
{"t":"SO","g":"38","s":"38:6","a":0,"b":0,"c":0},
{"t":"SO","g":"40","s":"40:4","a":1,"b":1,"c":1},
{"t":"SO","g":"40","s":"40:5","a":24,"b":20,"c":17},
{"t":"SO","g":"40","s":"40:6","a":52,"b":44,"c":40},
{"t":"SO","g":"40","s":"40:7","a":0,"b":0,"c":0},
{"t":"VA","g":"36","s":"36:0","a":1,"b":1,"c":1},
{"t":"VA","g":"36","s":"36:1","a":20,"b":15,"c":10},
{"t":"VA","g":"36","s":"36:2","a":58,"b":50,"c":43},
{"t":"VA","g":"36","s":"36:3","a":1,"b":1,"c":1},
{"t":"VA","g":"38","s":"38:2","a":1,"b":1,"c":1},
{"t":"VA","g":"38","s":"38:3","a":11,"b":10,"c":9},
{"t":"VA","g":"38","s":"38:4","a":24,"b":20,"c":16},
{"t":"VA","g":"38","s":"38:5","a":2,"b":2,"c":2},
{"t":"VA","g":"38","s":"38:6","a":0,"b":0,"c":0},
{"t":"VA","g":"40","s":"40:4","a":1,"b":1,"c":1},
{"t":"VA","g":"40","s":"40:5","a":2.5,"b":2,"c":2},
{"t":"VA","g":"40","s":"40:6","a":1.5,"b":1.5,"c":1.5},
{"t":"VA","g":"40","s":"40:7","a":0,"b":0,"c":0},
{"t":"SA","g":"36","s":"36:0","a":1,"b":1,"c":1},
{"t":"SA","g":"36","s":"36:1","a":20,"b":18,"c":15},
{"t":"SA","g":"36","s":"36:2","a":45,"b":38,"c":35},
{"t":"SA","g":"36","s":"36:3","a":1,"b":1,"c":1},
{"t":"SA","g":"38","s":"38:2","a":1,"b":1,"c":1},
{"t":"SA","g":"38","s":"38:3","a":13,"b":12,"c":11},
{"t":"SA","g":"38","s":"38:4","a":25,"b":22,"c":18},
{"t":"SA","g":"38","s":"38:5","a":2,"b":2,"c":2},
{"t":"SA","g":"38","s":"38:6","a":0,"b":0,"c":0},
{"t":"SA","g":"40","s":"40:4","a":1,"b":1,"c":1},
{"t":"SA","g":"40","s":"40:5","a":3,"b":3,"c":2.5},
{"t":"SA","g":"40","s":"40:6","a":2,"b":2,"c":1.5},
{"t":"SA","g":"40","s":"40:7","a":0,"b":0,"c":0},
{"t":"LI","s":"40:5","lab":"LIVER","v":50},
{"t":"HE","s":"40:5","lab":"HEART","v":76},
{"t":"KI","s":"40:5","lab":"KIDNEY","v":57},
{"t":"GL","s":"40:5","lab":"GLUTEUS","v":77},
{"t":"SO","s":"40:5","lab":"SOLEUS","v":70},
{"t":"VA","s":"40:5","lab":"VAT","v":53},
{"t":"SA","s":"40:5","lab":"SAT","v":52},
{"t":"LI","s":"c40","ttl":"PS","v":93},
{"t":"LI","s":"40:7","sp":"","v":50}
]
},
"columns":1,
"center":true,
"spacing":18,
"concat":[
{"spacing":32,
 "hconcat":[
  {"spacing":17,"hconcat":[
   {"width":235,"height":159,"view":{"stroke":null},"data":{"name":"bars"},"transform":[{"filter":"datum.cls=='PC'"}],
    "title":{"text":"PC","fontSize":18,"fontWeight":"bold","offset":-55,"frame":"group","dx":55,"color":"#000"},
    "encoding":{"y":{"field":"t","type":"nominal","sort":["SAT","VAT","SOLEUS","GLUTEUS","HEART","KIDNEY","LIVER"],"scale":{"paddingInner":0.38,"paddingOuter":0.22},"axis":{"title":null,"ticks":false,"domainColor":"#000","domainWidth":1.5,"labelFontSize":13,"labelFontWeight":"bold","labelColor":"#444","labelPadding":6}}},
    "layer":[
     {"mark":{"type":"bar"},"encoding":{"x":{"field":"v","type":"quantitative","scale":{"domain":[0,15000]},"axis":{"title":null,"values":[0,5000,10000,15000],"format":"d","grid":false,"domainColor":"#000","domainWidth":1.5,"tickColor":"#000","tickWidth":1.5,"tickSize":5,"labelFontSize":12,"labelColor":"#333","labelPadding":2,"labelOverlap":false,"labelExpr":"datum.value==0?'nmol/g':datum.label","labelAlign":{"condition":{"test":"datum.value==0","value":"right"},"value":"center"},"labelOffset":{"condition":{"test":"datum.value==0","value":-7},"value":0}}},"color":{"field":"t","type":"nominal","scale":{"domain":["SAT","VAT","SOLEUS","GLUTEUS","HEART","KIDNEY","LIVER"],"range":["#a6a6a6","#e03ce0","#ebeb10","#f51515","#12b312","#1414ea","#16f5f5"]},"legend":null}}},
     {"mark":{"type":"rule","color":"#000","strokeWidth":2},"encoding":{"x":{"field":"v","type":"quantitative"},"x2":{"field":"e"}}},
     {"mark":{"type":"tick","color":"#000","thickness":2,"size":8,"orient":"vertical"},"encoding":{"x":{"field":"e","type":"quantitative"}}},
     {"mark":{"type":"text","align":"left","dx":5,"fontSize":11,"color":"#555"},"encoding":{"x":{"field":"e","type":"quantitative"},"text":{"field":"note"}}},
     {"data":{"values":[{"panel":"A"}]},"mark":{"type":"text","fontSize":64,"color":"#000","dx":-80,"dy":13,"baseline":"middle","align":"center"},"encoding":{"x":{"datum":0},"y":{"datum":"SAT"},"text":{"field":"panel"}}}
    ]},
   {"spacing":8,"hconcat":[
   {"width":234,"height":159,"view":{"stroke":null},"data":{"name":"bars"},"transform":[{"filter":"datum.cls=='PE'"}],
    "title":{"text":"PE","fontSize":18,"fontWeight":"bold","offset":-48,"frame":"group","dx":28,"color":"#000"},
    "encoding":{"y":{"field":"t","type":"nominal","sort":["SAT","VAT","SOLEUS","GLUTEUS","HEART","KIDNEY","LIVER"],"scale":{"paddingInner":0.38,"paddingOuter":0.22},"axis":{"title":null,"ticks":false,"domainColor":"#000","domainWidth":1.5,"labelFontSize":13,"labelFontWeight":"bold","labelColor":"#444","labelPadding":6}}},
    "layer":[
     {"mark":{"type":"bar"},"encoding":{"x":{"field":"v","type":"quantitative","scale":{"domain":[0,10000]},"axis":{"title":null,"values":[0,2000,4000,6000,8000,10000],"format":"d","grid":false,"domainColor":"#000","domainWidth":1.5,"tickColor":"#000","tickWidth":1.5,"tickSize":5,"labelFontSize":12,"labelColor":"#333","labelPadding":2,"labelOverlap":false,"labelExpr":"datum.value==0?'nmol/g':datum.label","labelAlign":{"condition":{"test":"datum.value==0","value":"right"},"value":"center"},"labelOffset":{"condition":{"test":"datum.value==0","value":-7},"value":0}}},"color":{"field":"t","type":"nominal","scale":{"domain":["SAT","VAT","SOLEUS","GLUTEUS","HEART","KIDNEY","LIVER"],"range":["#a6a6a6","#e03ce0","#ebeb10","#f51515","#12b312","#1414ea","#16f5f5"]},"legend":null}}},
     {"mark":{"type":"rule","color":"#000","strokeWidth":2},"encoding":{"x":{"field":"v","type":"quantitative"},"x2":{"field":"e"}}},
     {"mark":{"type":"tick","color":"#000","thickness":2,"size":8,"orient":"vertical"},"encoding":{"x":{"field":"e","type":"quantitative"}}},
     {"mark":{"type":"text","align":"left","dx":5,"fontSize":11,"color":"#555"},"encoding":{"x":{"field":"e","type":"quantitative"},"text":{"field":"note"}}}
    ]},
   {"width":227,"height":159,"view":{"stroke":null},"data":{"name":"bars"},"transform":[{"filter":"datum.cls=='PG'"}],
    "title":{"text":"PG","fontSize":18,"fontWeight":"bold","offset":-48,"frame":"group","dx":8,"color":"#000"},
    "encoding":{"y":{"field":"t","type":"nominal","sort":["SAT","VAT","SOLEUS","GLUTEUS","HEART","KIDNEY","LIVER"],"scale":{"paddingInner":0.38,"paddingOuter":0.22},"axis":{"title":null,"ticks":false,"domainColor":"#000","domainWidth":1.5,"labelFontSize":13,"labelFontWeight":"bold","labelColor":"#444","labelPadding":6}}},
    "layer":[
     {"mark":{"type":"bar"},"encoding":{"x":{"field":"v","type":"quantitative","scale":{"domain":[0,500]},"axis":{"title":null,"values":[0,100,200,300,400,500],"format":"d","grid":false,"domainColor":"#000","domainWidth":1.5,"tickColor":"#000","tickWidth":1.5,"tickSize":5,"labelFontSize":12,"labelColor":"#333","labelPadding":2,"labelOverlap":false,"labelExpr":"datum.value==0?'nmol/g':datum.label","labelAlign":{"condition":{"test":"datum.value==0","value":"right"},"value":"center"},"labelOffset":{"condition":{"test":"datum.value==0","value":-7},"value":0}}},"color":{"field":"t","type":"nominal","scale":{"domain":["SAT","VAT","SOLEUS","GLUTEUS","HEART","KIDNEY","LIVER"],"range":["#a6a6a6","#e03ce0","#ebeb10","#f51515","#12b312","#1414ea","#16f5f5"]},"legend":null}}},
     {"mark":{"type":"rule","color":"#000","strokeWidth":2},"encoding":{"x":{"field":"v","type":"quantitative"},"x2":{"field":"e"}}},
     {"mark":{"type":"tick","color":"#000","thickness":2,"size":8,"orient":"vertical"},"encoding":{"x":{"field":"e","type":"quantitative"}}},
     {"mark":{"type":"text","align":"left","dx":5,"fontSize":11,"color":"#555"},"encoding":{"x":{"field":"e","type":"quantitative"},"text":{"field":"note"}}}
    ]}
   ]}
  ]},
  {"spacing":0,"hconcat":[
   {"width":229,"height":159,"view":{"stroke":null},"data":{"name":"bars"},"transform":[{"filter":"datum.cls=='PI'"}],
    "title":{"text":"PI","fontSize":18,"fontWeight":"bold","offset":-50,"frame":"group","dx":-8,"color":"#000"},
    "encoding":{"y":{"field":"t","type":"nominal","sort":["SAT","VAT","SOLEUS","GLUTEUS","HEART","KIDNEY","LIVER"],"scale":{"paddingInner":0.38,"paddingOuter":0.22},"axis":{"title":null,"ticks":false,"domainColor":"#000","domainWidth":1.5,"labelFontSize":13,"labelFontWeight":"bold","labelColor":"#444","labelPadding":6}}},
    "layer":[
     {"mark":{"type":"bar"},"encoding":{"x":{"field":"v","type":"quantitative","scale":{"domain":[0,4000]},"axis":{"title":null,"values":[0,1000,2000,3000,4000],"format":"d","grid":false,"domainColor":"#000","domainWidth":1.5,"tickColor":"#000","tickWidth":1.5,"tickSize":5,"labelFontSize":12,"labelColor":"#333","labelPadding":2,"labelOverlap":false,"labelExpr":"datum.value==0?'nmol/g tissue':datum.label","labelAlign":{"condition":{"test":"datum.value==0","value":"right"},"value":"center"},"labelOffset":{"condition":{"test":"datum.value==0","value":34},"value":0}}},"color":{"field":"t","type":"nominal","scale":{"domain":["SAT","VAT","SOLEUS","GLUTEUS","HEART","KIDNEY","LIVER"],"range":["#a6a6a6","#e03ce0","#ebeb10","#f51515","#12b312","#1414ea","#16f5f5"]},"legend":null}}},
     {"mark":{"type":"rule","color":"#000","strokeWidth":2},"encoding":{"x":{"field":"v","type":"quantitative"},"x2":{"field":"e"}}},
     {"mark":{"type":"tick","color":"#000","thickness":2,"size":8,"orient":"vertical"},"encoding":{"x":{"field":"e","type":"quantitative"}}},
     {"mark":{"type":"text","align":"left","dx":5,"fontSize":11,"color":"#555"},"encoding":{"x":{"field":"e","type":"quantitative"},"text":{"field":"note"}}}
    ]},
   {"width":227,"height":159,"view":{"stroke":null},"data":{"name":"bars"},"transform":[{"filter":"datum.cls=='PS'"}],
    "title":{"text":"PS","fontSize":18,"fontWeight":"bold","offset":-48,"frame":"group","dx":10,"color":"#000"},
    "encoding":{"y":{"field":"t","type":"nominal","sort":["SAT","VAT","SOLEUS","GLUTEUS","HEART","KIDNEY","LIVER"],"scale":{"paddingInner":0.38,"paddingOuter":0.22},"axis":{"title":null,"ticks":false,"domainColor":"#000","domainWidth":1.5,"labelFontSize":13,"labelFontWeight":"bold","labelColor":"#444","labelPadding":6}}},
    "layer":[
     {"mark":{"type":"bar"},"encoding":{"x":{"field":"v","type":"quantitative","scale":{"domain":[0,1500]},"axis":{"title":null,"values":[0,500,1000,1500],"format":"d","grid":false,"domainColor":"#000","domainWidth":1.5,"tickColor":"#000","tickWidth":1.5,"tickSize":5,"labelFontSize":12,"labelColor":"#333","labelPadding":2,"labelOverlap":false,"labelExpr":"datum.value==0?'nmol/g':datum.label","labelAlign":{"condition":{"test":"datum.value==0","value":"right"},"value":"center"},"labelOffset":{"condition":{"test":"datum.value==0","value":-7},"value":0}}},"color":{"field":"t","type":"nominal","scale":{"domain":["SAT","VAT","SOLEUS","GLUTEUS","HEART","KIDNEY","LIVER"],"range":["#a6a6a6","#e03ce0","#ebeb10","#f51515","#12b312","#1414ea","#16f5f5"]},"legend":null}}},
     {"mark":{"type":"rule","color":"#000","strokeWidth":2},"encoding":{"x":{"field":"v","type":"quantitative"},"x2":{"field":"e"}}},
     {"mark":{"type":"tick","color":"#000","thickness":2,"size":8,"orient":"vertical"},"encoding":{"x":{"field":"e","type":"quantitative"}}},
     {"mark":{"type":"text","align":"left","dx":5,"fontSize":11,"color":"#555"},"encoding":{"x":{"field":"e","type":"quantitative"},"text":{"field":"note"}}}
    ]}
  ]}
 ]},
{"spacing":8,
 "hconcat":[
  {"data":{"name":"pc"},"transform":[{"fold":["a","b","c"],"as":["smp","val"]}],
   "facet":{"row":{"field":"t","type":"nominal","sort":["LI","HE","KI","GL","SO","VA","SA"],"title":"Relative concentration (mol %)","header":{"labels":false,"titleFontSize":14,"titleFontWeight":"normal","titleColor":"#222","titlePadding":8}}},
   "spacing":0,
   "spec":{"width":357,"height":83.6,"layer":[
     {"transform":[{"filter":"isValid(datum.val)"}],"mark":{"type":"line","interpolate":"monotone","color":"#7a7a7a","strokeWidth":1,"opacity":0.85},
      "encoding":{"x":{"field":"s","type":"ordinal","scale":{"domain":["p0","p1","32:0","32:1","32:2","p2","|34","34:0","34:1","34:2","34:3","34:4","34:5","|36","36:0","36:1","36:2","36:3","36:4","36:5","|38","38:2","38:3","38:4","38:5","38:6","38:7","|40","40:4","40:5","40:6","40:7","40:8","p3"],"padding":0.5},
                       "axis":{"title":["Nº of C","Double","bonds"],"titleX":-31,"titleY":3,"titleAlign":"center","titleBaseline":"top","titleAngle":0,"titleFontSize":19,"titleFontWeight":"bold","titleColor":"#000","titleLineHeight":19,
                               "labelExpr":"[indexof(['32:1','34:2','36:2','38:4','40:6'],datum.value)>=0?split(datum.value,':')[0]:'', indexof(datum.value,':')>0?split(datum.value,':')[1]:'']",
                               "labelLineHeight":27,"labelAngle":0,"labelPadding":5,"labelFontSize":14,"labelColor":"#111","labelOverlap":false,"ticks":false,"domain":false,
                               "grid":true,"gridColor":"#cfcfcf","gridOpacity":{"condition":{"test":"indexof(datum.value,'|')==0","value":1},"value":0}}},
                  "y":{"field":"val","type":"quantitative","scale":{"domain":[0,55]},"axis":{"title":null,"values":[25,50],"ticks":false,"domain":false,"grid":false,"labelFontSize":14,"labelColor":"#111","labelPadding":4}},
                  "detail":[{"field":"smp"},{"field":"g"}]}},
     {"transform":[{"filter":"isValid(datum.lab)&&datum.smp=='a'"}],"mark":{"type":"text","fontSize":10.5,"fontWeight":"bold","color":"#333"},
      "encoding":{"x":{"field":"s","type":"ordinal"},"y":{"field":"v","type":"quantitative"},"text":{"field":"lab"}}},
     {"transform":[{"filter":"isValid(datum.ttl)&&datum.smp=='a'"}],"mark":{"type":"text","fontSize":17,"color":"#111"},
      "encoding":{"x":{"field":"s","type":"ordinal"},"y":{"field":"v","type":"quantitative"},"text":{"field":"ttl"}}},
     {"transform":[{"filter":"isValid(datum.big)&&datum.smp=='a'"}],"mark":{"type":"text","fontSize":64,"color":"#000","align":"left","baseline":"middle","dx":-4},
      "encoding":{"x":{"field":"s","type":"ordinal"},"y":{"field":"v","type":"quantitative"},"text":{"field":"big"}}}
   ]}},
  {"spacing":11,"hconcat":[
  {"data":{"name":"pe"},"transform":[{"fold":["a","b","c"],"as":["smp","val"]}],
   "facet":{"row":{"field":"t","type":"nominal","sort":["LI","HE","KI","GL","SO","VA","SA"],"title":null,"header":{"labels":false}}},
   "spacing":0,
   "spec":{"width":360,"height":83.6,"layer":[
     {"transform":[{"filter":"isValid(datum.val)"}],"mark":{"type":"line","interpolate":"monotone","color":"#7a7a7a","strokeWidth":1,"opacity":0.85},
      "encoding":{"x":{"field":"s","type":"ordinal","scale":{"domain":["32:1","|34","34:1","34:2","34:3","|36","36:0","36:1","36:2","36:3","36:4","36:5","p1","|38","38:3","38:4","38:5","38:6","|40","40:4","40:5","40:6","40:7","p2"],"padding":0.5},
                       "axis":{"title":null,
                               "labelExpr":"[indexof(['32:1','34:2','36:3','38:4','40:6'],datum.value)>=0?split(datum.value,':')[0]:'', indexof(datum.value,':')>0?split(datum.value,':')[1]:'']",
                               "labelLineHeight":27,"labelAngle":0,"labelPadding":5,"labelFontSize":14,"labelColor":"#111","labelOverlap":false,"ticks":false,"domain":false,
                               "grid":true,"gridColor":"#cfcfcf","gridOpacity":{"condition":{"test":"indexof(datum.value,'|')==0","value":1},"value":0}}},
                  "y":{"field":"val","type":"quantitative","scale":{"domain":[0,64]},"axis":{"title":null,"values":[30,60],"ticks":false,"domain":false,"grid":false,"labelFontSize":14,"labelColor":"#111","labelPadding":4}},
                  "detail":[{"field":"smp"},{"field":"g"}]}},
     {"transform":[{"filter":"isValid(datum.lab)&&datum.smp=='a'"}],"mark":{"type":"text","fontSize":10.5,"fontWeight":"bold","color":"#333"},
      "encoding":{"x":{"field":"s","type":"ordinal"},"y":{"field":"v","type":"quantitative"},"text":{"field":"lab"}}},
     {"transform":[{"filter":"isValid(datum.ttl)&&datum.smp=='a'"}],"mark":{"type":"text","fontSize":17,"color":"#111","dx":-4},
      "encoding":{"x":{"field":"s","type":"ordinal"},"y":{"field":"v","type":"quantitative"},"text":{"field":"ttl"}}}
   ]}},
  {"spacing":5,"hconcat":[
  {"data":{"name":"pg"},"transform":[{"fold":["a","b","c"],"as":["smp","val"]}],
   "facet":{"row":{"field":"t","type":"nominal","sort":["LI","HE","KI","GL","SO","VA","SA"],"title":null,"header":{"labels":false}}},
   "spacing":0,
   "spec":{"width":161,"height":83.6,"layer":[
     {"transform":[{"filter":"isValid(datum.val)"}],"mark":{"type":"line","interpolate":"monotone","color":"#7a7a7a","strokeWidth":1,"opacity":0.85},
      "encoding":{"x":{"field":"s","type":"ordinal","scale":{"domain":["34:0","x1","34:1","c34","34:2","x2","34:3","x3","36:0","x4","36:1","c36","36:2","x5","36:3"],"padding":0},
                       "axis":{"title":null,
                               "labelExpr":"[indexof(datum.value,'c')==0?substring(datum.value,1):'', indexof(['34:1','34:2','36:1','36:2'],datum.value)>=0?split(datum.value,':')[1]:'']",
                               "labelLineHeight":27,"labelAngle":0,"labelPadding":5,"labelFontSize":14,"labelColor":"#111","labelOverlap":false,"ticks":false,"domain":false,
                               "grid":true,"gridColor":"#cfcfcf","gridOpacity":{"condition":{"test":"datum.value=='34:3'","value":1},"value":0}}},
                  "y":{"field":"val","type":"quantitative","scale":{"domain":[0,110]},"axis":{"title":null,"values":[30,60,90],"ticks":false,"domain":false,"grid":false,"labelFontSize":14,"labelColor":"#111","labelPadding":4}},
                  "detail":[{"field":"smp"},{"field":"g"}]}},
     {"transform":[{"filter":"isValid(datum.lab)&&datum.smp=='a'"}],"mark":{"type":"text","fontSize":10.5,"fontWeight":"bold","color":"#333","dx":-4},
      "encoding":{"x":{"field":"s","type":"ordinal"},"y":{"field":"v","type":"quantitative"},"text":{"field":"lab"}}},
     {"transform":[{"filter":"isValid(datum.ttl)&&datum.smp=='a'"}],"mark":{"type":"text","fontSize":17,"color":"#111","dx":-9},
      "encoding":{"x":{"field":"s","type":"ordinal"},"y":{"field":"v","type":"quantitative"},"text":{"field":"ttl"}}}
   ]}},
  {"spacing":8,"hconcat":[
  {"data":{"name":"pi"},"transform":[{"fold":["a","b","c"],"as":["smp","val"]}],
   "facet":{"row":{"field":"t","type":"nominal","sort":["LI","HE","KI","GL","SO","VA","SA"],"title":null,"header":{"labels":false}}},
   "spacing":0,
   "spec":{"width":356,"height":83.6,"layer":[
     {"transform":[{"filter":"isValid(datum.val)"}],"mark":{"type":"line","interpolate":"monotone","color":"#7a7a7a","strokeWidth":1,"opacity":0.85},
      "encoding":{"x":{"field":"s","type":"ordinal","scale":{"domain":["32:1","|34","34:0","34:1","|35","35:1","35:2","|36","36:1","36:2","36:3","36:4","|38","38:2","38:3","38:4","38:5","38:6","|40","40:4","40:5","40:6"],"padding":0.5},
                       "axis":{"title":null,
                               "labelExpr":"[indexof(['32:1','34:0','35:1','36:2','38:4','40:5'],datum.value)>=0?split(datum.value,':')[0]:'', indexof(datum.value,':')>0?split(datum.value,':')[1]:'']",
                               "labelLineHeight":27,"labelAngle":0,"labelPadding":5,"labelFontSize":14,"labelColor":"#111","labelOverlap":false,"ticks":false,"domain":false,
                               "grid":true,"gridColor":"#cfcfcf","gridOpacity":{"condition":{"test":"indexof(datum.value,'|')==0","value":1},"value":0}}},
                  "y":{"field":"val","type":"quantitative","scale":{"domain":[0,100]},"axis":{"title":null,"values":[40,80],"ticks":false,"domain":false,"grid":false,"labelFontSize":14,"labelColor":"#111","labelPadding":4}},
                  "detail":[{"field":"smp"},{"field":"g"}]}},
     {"transform":[{"filter":"isValid(datum.lab)&&datum.smp=='a'"}],"mark":{"type":"text","fontSize":10.5,"fontWeight":"bold","color":"#333"},
      "encoding":{"x":{"field":"s","type":"ordinal"},"y":{"field":"v","type":"quantitative"},"text":{"field":"lab"}}},
     {"transform":[{"filter":"isValid(datum.ttl)&&datum.smp=='a'"}],"mark":{"type":"text","fontSize":17,"color":"#111"},
      "encoding":{"x":{"field":"s","type":"ordinal"},"y":{"field":"v","type":"quantitative"},"text":{"field":"ttl"}}}
   ]}},
  {"data":{"name":"ps"},"transform":[{"fold":["a","b","c"],"as":["smp","val"]}],
   "facet":{"row":{"field":"t","type":"nominal","sort":["LI","HE","KI","GL","SO","VA","SA"],"title":null,"header":{"labels":false}}},
   "spacing":0,
   "spec":{"width":259,"height":83.6,"layer":[
     {"transform":[{"filter":"isValid(datum.val)"}],"mark":{"type":"line","interpolate":"monotone","color":"#7a7a7a","strokeWidth":1,"opacity":0.85},
      "encoding":{"x":{"field":"s","type":"ordinal","scale":{"domain":["36:0","q1","36:1","36:2","36:3","|38","38:2","38:3","q2","38:4","q3","38:5","q4","38:6","|40","40:4","40:5","q5","c40","40:6","q7","q8","40:7"],"padding":0},
                       "axis":{"title":null,
                               "labelExpr":"[indexof(['36:2','38:4','c40'],datum.value)>=0?(indexof(datum.value,'c')==0?substring(datum.value,1):split(datum.value,':')[0]):'', indexof(['36:1','36:2','38:3','38:4','38:5','40:5','40:6'],datum.value)>=0?split(datum.value,':')[1]:'']",
                               "labelLineHeight":27,"labelAngle":0,"labelPadding":5,"labelFontSize":14,"labelColor":"#111","labelOverlap":false,"ticks":false,"domain":false,
                               "grid":true,"gridColor":"#cfcfcf","gridOpacity":{"condition":{"test":"indexof(datum.value,'|')==0","value":1},"value":0}}},
                  "y":{"field":"val","type":"quantitative","scale":{"domain":[0,100]},"axis":{"title":null,"values":[40,80],"ticks":false,"domain":false,"grid":false,"labelFontSize":14,"labelColor":"#111","labelPadding":4}},
                  "detail":[{"field":"smp"},{"field":"g"}]}},
     {"transform":[{"filter":"isValid(datum.lab)&&datum.smp=='a'"}],"mark":{"type":"text","fontSize":10.5,"fontWeight":"bold","color":"#333","dx":5},
      "encoding":{"x":{"field":"s","type":"ordinal"},"y":{"field":"v","type":"quantitative"},"text":{"field":"lab"}}},
     {"transform":[{"filter":"isValid(datum.ttl)&&datum.smp=='a'"}],"mark":{"type":"text","fontSize":17,"color":"#111"},
      "encoding":{"x":{"field":"s","type":"ordinal"},"y":{"field":"v","type":"quantitative"},"text":{"field":"ttl"}}},
     {"transform":[{"filter":"isValid(datum.sp)&&datum.smp=='a'"}],"mark":{"type":"text","fontSize":10,"dx":33,"align":"left"},
      "encoding":{"x":{"field":"s","type":"ordinal"},"y":{"field":"v","type":"quantitative"},"text":{"field":"sp"}}}
   ]}}
  ]}
  ]}
  ]}
 ]}
]
}
